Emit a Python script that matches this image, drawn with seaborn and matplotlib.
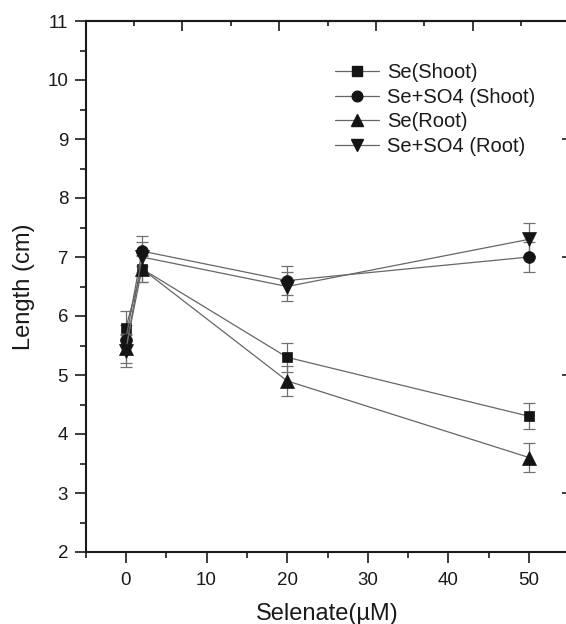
import numpy as np
import pandas as pd
import matplotlib
matplotlib.use("Agg")
import matplotlib.pyplot as plt
import seaborn as sns
from matplotlib.ticker import FixedLocator
from matplotlib.lines import Line2D

# ---- data ----
conc = [0, 2, 20, 50]
series_names = ["Se(Shoot)", "Se+SO4 (Shoot)", "Se(Root)", "Se+SO4 (Root)"]
se_shoot = [5.8, 6.8, 5.3, 4.3]
se_so4_shoot = [5.6, 7.1, 6.6, 7.0]
se_root = [5.45, 6.8, 4.9, 3.6]
se_so4_root = [5.4, 7.0, 6.5, 7.3]
err_se_shoot = [0.28, 0.22, 0.25, 0.22]
err_se_so4_shoot = [0.25, 0.25, 0.25, 0.25]
err_se_root = [0.25, 0.23, 0.25, 0.25]
err_se_so4_root = [0.27, 0.25, 0.25, 0.28]

values = [se_shoot, se_so4_shoot, se_root, se_so4_root]
errors = [err_se_shoot, err_se_so4_shoot, err_se_root, err_se_so4_root]
markers = ["s", "o", "^", "v"]
marker_sizes = [7.5, 8.5, 10, 10]

df = pd.DataFrame({
    "x": np.tile(conc, 4),
    "y": np.concatenate(values),
    "err": np.concatenate(errors),
    "series": np.repeat(series_names, len(conc)),
})

sns.set_style("ticks")
plt.rcParams["font.family"] = ["Liberation Sans", "DejaVu Sans"]

W, H = 566, 624
fig = plt.figure(figsize=(W / 100, H / 100), dpi=100)
x_left, x_right = 85.5, 569.5
y_top, y_bot = 21, 552
ax = fig.add_axes([x_left / W, 1 - y_bot / H, (x_right - x_left) / W, (y_bot - y_top) / H])

line_gray = "#666666"
mk_color = "#141414"
ink = "#1a1a1a"

# error bars first (underneath)
for name, v, e in zip(series_names, values, errors):
    ax.errorbar(conc, v, yerr=e, fmt="none", ecolor="#707070", elinewidth=0.9,
                capsize=4, capthick=0.9, zorder=1)

n_before = len(ax.lines)
sns.lineplot(data=df, x="x", y="y", hue="series", style="series",
             hue_order=series_names, style_order=series_names,
             palette=[line_gray] * 4, markers=dict(zip(series_names, markers)),
             dashes=False, linewidth=0.9, markersize=9,
             markerfacecolor=mk_color, markeredgecolor=mk_color,
             markeredgewidth=0.5, legend=False, ax=ax, zorder=3, sort=False)
for ln, ms in zip(ax.lines[n_before:], marker_sizes):
    ln.set_markersize(ms)

ax.set_xlim(-5, 55)
ax.set_ylim(2, 11)

ax.set_xticks([0, 10, 20, 30, 40, 50])
ax.xaxis.set_minor_locator(FixedLocator([-5, 5, 15, 25, 35, 45]))
ax.set_yticks(range(2, 12))
ax.yaxis.set_minor_locator(FixedLocator(np.arange(2.5, 11, 1.0)))

for s in ["left", "bottom", "top", "right"]:
    ax.spines[s].set_linewidth(1.5)
    ax.spines[s].set_color(ink)
    ax.spines[s].set_visible(True)

ax.tick_params(axis="both", which="major", direction="out", length=8, width=1.2,
               labelsize=13.5, color=ink, labelcolor=ink)
ax.tick_params(axis="x", which="major", pad=6.5)
ax.tick_params(axis="y", which="major", pad=4.5)
ax.tick_params(axis="both", which="minor", direction="out", length=4, width=1.2,
               color=ink)
ax.tick_params(top=False, right=False, which="both")

# top axis ticks (inward)
top = ax.secondary_xaxis("top")
top.set_xticks([-5, 7, 19, 31, 43, 55])
top.xaxis.set_minor_locator(FixedLocator([1, 13, 25, 37, 49]))
top.tick_params(which="major", direction="in", length=7.5, width=1.2,
                labeltop=False, color=ink)
top.tick_params(which="minor", direction="in", length=3.8, width=1.2, color=ink)
top.spines["top"].set_linewidth(1.5)
top.spines["top"].set_color(ink)

# right axis ticks (inward)
right = ax.secondary_yaxis("right")
right.set_yticks([3, 5, 7, 9, 11])
right.yaxis.set_minor_locator(FixedLocator([2, 4, 6, 8, 10]))
right.tick_params(which="major", direction="in", length=6, width=1.2,
                  labelright=False, color=ink)
right.tick_params(which="minor", direction="in", length=3, width=0.6, color="#bbbbbb")

ax.set_xlabel("Selenate(µM)", fontsize=17, color=ink, labelpad=10)
ax.set_ylabel("Length (cm)", fontsize=17, color=ink, labelpad=9)

handles = [Line2D([], [], color=line_gray, linewidth=0.9, marker=m, markersize=ms * 0.9,
                  markerfacecolor=mk_color, markeredgecolor=mk_color)
           for m, ms in zip(markers, marker_sizes)]
leg = ax.legend(handles, series_names, loc="upper left",
                bbox_to_anchor=(335 / W, 1 - 63 / H), bbox_transform=fig.transFigure,
                frameon=False, fontsize=14.5, handlelength=2.2, handletextpad=0.4,
                labelspacing=0.28, borderpad=0, borderaxespad=0)
for t in leg.get_texts():
    t.set_color(ink)

fig.savefig("out.png", dpi=100)
